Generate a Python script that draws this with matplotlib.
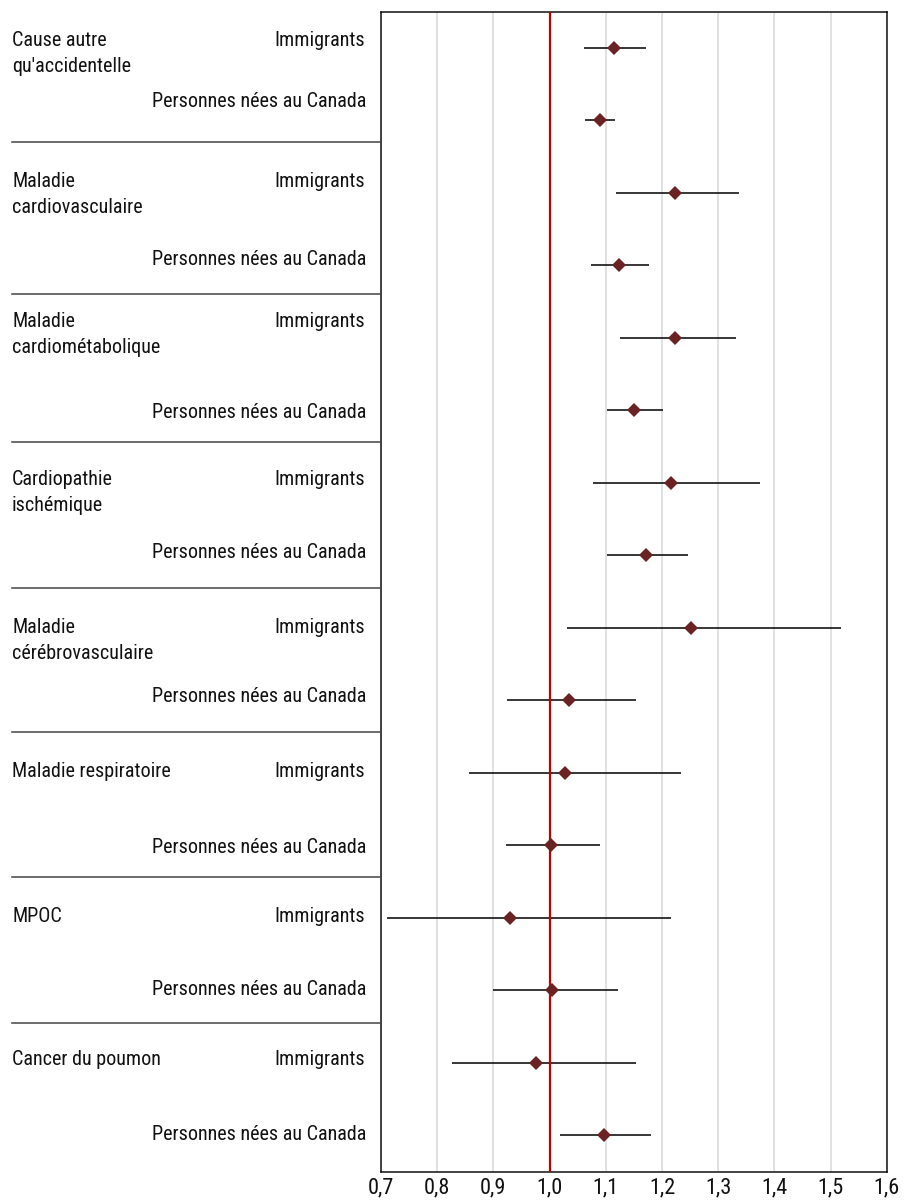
import matplotlib
matplotlib.use("Agg")
import matplotlib.pyplot as plt
import matplotlib.transforms as mtransforms
from matplotlib import font_manager as fm
from matplotlib.lines import Line2D
from matplotlib.ticker import FixedLocator, FuncFormatter

# ---- data: hazard ratios with 95% confidence intervals ----
causes = [
    ["Cause autre", "qu'accidentelle"],
    ["Maladie", "cardiovasculaire"],
    ["Maladie", "cardiométabolique"],
    ["Cardiopathie", "ischémique"],
    ["Maladie", "cérébrovasculaire"],
    ["Maladie respiratoire"],
    ["MPOC"],
    ["Cancer du poumon"],
]
groups = ["Immigrants", "Personnes nées au Canada"]

imm_hr = [1.115, 1.224, 1.224, 1.217, 1.252, 1.028, 0.930, 0.976]
imm_lo = [1.061, 1.119, 1.126, 1.078, 1.031, 0.856, 0.711, 0.826]
imm_hi = [1.172, 1.337, 1.332, 1.375, 1.519, 1.234, 1.217, 1.154]

can_hr = [1.090, 1.124, 1.150, 1.172, 1.034, 1.002, 1.004, 1.096]
can_lo = [1.063, 1.073, 1.103, 1.102, 0.925, 0.922, 0.899, 1.018]
can_hi = [1.116, 1.177, 1.201, 1.246, 1.153, 1.090, 1.122, 1.180]

x_ticks = [0.7, 0.8, 0.9, 1.0, 1.1, 1.2, 1.3, 1.4, 1.5, 1.6]
reference = 1.0

# ---- layout (pixels from the top-left corner) ----
W, H = 909, 1202
imm_text_y = [45.7, 186.7, 326.7, 485, 633.3, 776.7, 921.7, 1065]
can_text_y = [107.3, 265, 417.7, 558.3, 701.7, 853.3, 995, 1140]
separator_y = [141.7, 294.3, 441.7, 588, 731.5, 877.3, 1023.3]

# pick a narrow sans face if one is installed, sized to keep similar widths
installed = {(f.name, f.stretch) for f in fm.fontManager.ttflist}
names = {n for n, _ in installed}
font_choices = [
    ("Roboto Condensed", "normal", 14.5, 16.0),
    ("Liberation Sans Narrow", "normal", 14.5, 15.5),
    ("DejaVu Sans", "condensed", 12.6, 13.5),
    ("Liberation Sans", "normal", 12.4, 14.0),
    ("DejaVu Sans", "normal", 11.4, 13.0),
]
for fam, stretch, label_fs, tick_fs in font_choices:
    if stretch == "normal" and fam in names:
        break
    if stretch != "normal" and any(n == fam and s in ("condensed", "semi-condensed")
                                   for n, s in installed):
        break
plt.rcParams["font.family"] = [fam, "DejaVu Sans"]
plt.rcParams["font.stretch"] = stretch

fig = plt.figure(figsize=(W / 100, H / 100), dpi=100)
ax = fig.add_axes([381 / W, 1 - 1171.7 / H, (886.7 - 381) / W, 1160 / H])
px = mtransforms.Affine2D().scale(1 / W, -1 / H).translate(0, 1) + fig.transFigure

n = len(causes)
y_imm = [2 * i + 0.5 for i in range(n)]
y_can = [2 * i + 1.5 for i in range(n)]

marker_color = "#6b2222"
line_color = "#000000"

ax.hlines(y_imm, imm_lo, imm_hi, color=line_color, lw=1.1, zorder=2)
ax.hlines(y_can, can_lo, can_hi, color=line_color, lw=1.1, zorder=2)
ax.axvline(reference, color="#c00000", lw=1.6, zorder=3)
ax.plot(imm_hr, y_imm, ls="none", marker="D", ms=7.3, color=marker_color,
        markeredgewidth=0, zorder=4)
ax.plot(can_hr, y_can, ls="none", marker="D", ms=7.3, color=marker_color,
        markeredgewidth=0, zorder=4)

ax.set_xlim(x_ticks[0], x_ticks[-1])
ax.set_ylim(2 * n, 0)
ax.xaxis.set_major_locator(FixedLocator(x_ticks))
ax.xaxis.set_major_formatter(FuncFormatter(lambda v, p: f"{v:.1f}".replace(".", ",")))
ax.set_yticks([])
ax.tick_params(axis="x", length=0, pad=4, labelsize=tick_fs, labelcolor="#111111")
ax.grid(axis="x", color="#d9d9d9", lw=1.1, zorder=0)
ax.set_axisbelow(True)
for sp in ax.spines.values():
    sp.set_color("#111111")
    sp.set_linewidth(1.1)

# row labels and group separators in the left margin
for i, lines in enumerate(causes):
    for k, line in enumerate(lines):
        fig.text(12, imm_text_y[i] + 26 * k, line, transform=px, fontsize=label_fs,
                 ha="left", va="baseline", color="#111111")
    fig.text(274, imm_text_y[i], groups[0], transform=px, fontsize=label_fs,
             ha="left", va="baseline", color="#111111")
    fig.text(366.5, can_text_y[i], groups[1], transform=px, fontsize=label_fs,
             ha="right", va="baseline", color="#111111")

for y in separator_y:
    fig.add_artist(Line2D([11.7, 381], [y, y], transform=px, color="#444444", lw=1.1))

fig.savefig("out.png", dpi=100)
